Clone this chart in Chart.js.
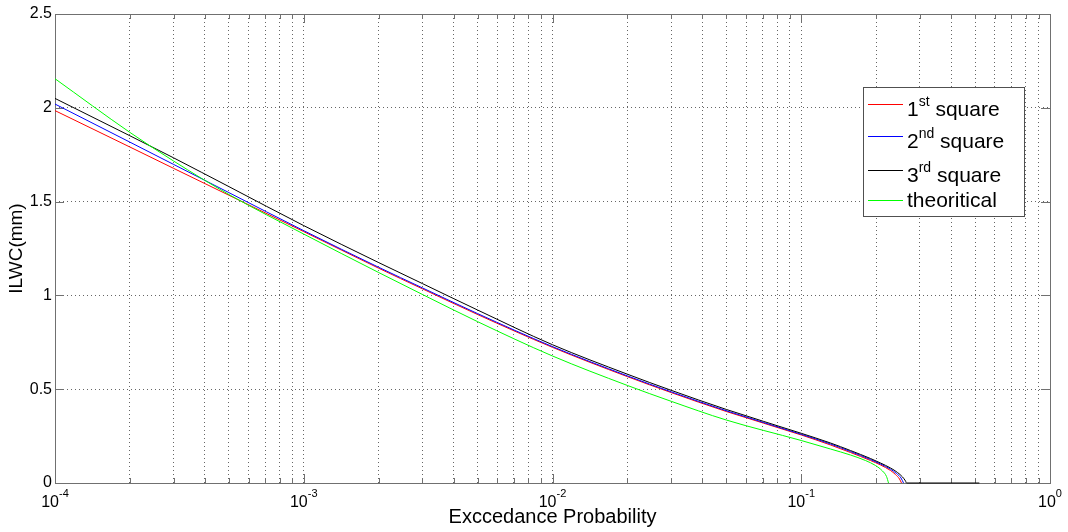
<!DOCTYPE html>
<html>
<head>
<meta charset="utf-8">
<script src="https://cdn.jsdelivr.net/npm/chart.js@4.4.1/dist/chart.umd.min.js"></script>
<style>
  html, body { margin: 0; padding: 0; background: #ffffff; }
  #wrap { width: 1068px; height: 532px; position: relative; }
</style>
</head>
<body>
<div id="wrap"><canvas id="c" width="1068" height="532"></canvas></div>
<script>
// ---------------- DATA ----------------
const seriesNames = ['1st square', '2nd square', '3rd square', 'theoritical'];
const legendMain = ['1', '2', '3', 'theoritical'];
const legendSup  = ['st', 'nd', 'rd', ''];
const legendRest = [' square', ' square', ' square', ''];

// 1st square (red)
const prob1 = [1e-4, 2e-4, 3e-4, 5e-4, 1e-3, 2e-3, 3e-3, 5e-3, 1e-2, 2e-2, 3e-2, 5e-2, 0.1, 0.1311, 0.1577, 0.1898, 0.2083, 0.2285, 0.2392, 0.2483, 0.2529];
const ilwc1 = [1.985, 1.791, 1.677, 1.534, 1.34, 1.145, 1.035, 0.898, 0.723, 0.567, 0.482, 0.381, 0.256, 0.2026, 0.1626, 0.1199, 0.096, 0.0666, 0.0453, 0.0213, 0];
// 2nd square (blue)
const prob2 = [1e-4, 2e-4, 3e-4, 5e-4, 1e-3, 2e-3, 3e-3, 5e-3, 1e-2, 2e-2, 3e-2, 5e-2, 0.1, 0.1311, 0.1577, 0.1898, 0.2083, 0.2285, 0.2415, 0.2518, 0.2577];
const ilwc2 = [2.02, 1.817, 1.698, 1.548, 1.345, 1.15, 1.04, 0.903, 0.727, 0.571, 0.486, 0.385, 0.2596, 0.2079, 0.1679, 0.1253, 0.1013, 0.0736, 0.0506, 0.0267, 0];
// 3rd square (black)
const prob3 = [1e-4, 2e-4, 3e-4, 5e-4, 1e-3, 2e-3, 3e-3, 5e-3, 1e-2, 2e-2, 3e-2, 5e-2, 0.1, 0.1311, 0.1577, 0.1898, 0.2083, 0.2285, 0.2438, 0.2554, 0.2625, 0.2649, 0.52];
const ilwc3 = [2.05, 1.851, 1.733, 1.58, 1.372, 1.175, 1.063, 0.922, 0.737, 0.58, 0.494, 0.392, 0.2649, 0.2132, 0.1732, 0.1306, 0.1066, 0.08, 0.056, 0.032, 0.0107, 0, 0];
// theoritical (green)
const prob4 = [1e-4, 2e-4, 3e-4, 5e-4, 1e-3, 2e-3, 3e-3, 5e-3, 1e-2, 2e-2, 3e-2, 5e-2, 0.1, 0.1311, 0.1577, 0.1812, 0.1988, 0.2121, 0.2202, 0.2243];
const ilwc4 = [2.155, 1.869, 1.716, 1.538, 1.327, 1.122, 1.005, 0.86, 0.677, 0.52, 0.4355, 0.3356, 0.2265, 0.1812, 0.1492, 0.1199, 0.0933, 0.064, 0.0346, 0];

const xTickExponents = [-4, -3, -2, -1, 0];
const yTickValues = [0, 0.5, 1, 1.5, 2, 2.5];
const xAxisTitle = 'Exccedance Probability';
const yAxisTitle = 'ILWC(mm)';

// ---------------- STYLE ----------------
const FONT = '"Liberation Sans", Arial, Helvetica, sans-serif';
const colors = ['#ff0000', '#0000ff', '#000000', '#00ff00'];
const GRID = 'rgba(0,0,0,0.6)';
const AXIS = '#707070';

const xGridTicks = [];
for (let e = xTickExponents[0]; e < xTickExponents[xTickExponents.length - 1]; e++) {
  for (let m = 1; m <= 9; m++) xGridTicks.push({ value: Number((m * Math.pow(10, e)).toPrecision(3)), major: m === 1 });
}
xGridTicks.push({ value: Math.pow(10, xTickExponents[xTickExponents.length - 1]), major: true });

const mk = (p, v) => v.map((y, i) => ({ x: p[i], y: y }));
const probs = [prob1, prob2, prob3, prob4];
const vals = [ilwc1, ilwc2, ilwc3, ilwc4];

const datasets = seriesNames.map((name, i) => ({
  label: name,
  data: mk(probs[i], vals[i]),
  borderColor: colors[i],
  backgroundColor: colors[i],
  borderWidth: 1,
  pointRadius: 0,
  fill: false,
  clip: false,
  cubicInterpolationMode: 'monotone',
  order: 3 - i
}));

const px = v => Math.round(v) + 0.5;

const framePlugin = {
  id: 'frame',
  beforeDatasetsDraw(chart) {
    const { ctx, chartArea: a, scales } = chart;
    ctx.save();
    ctx.strokeStyle = AXIS;
    ctx.lineWidth = 1;
    ctx.beginPath();
    xGridTicks.forEach(t => {
      const x = px(scales.x.getPixelForValue(t.value));
      const len = t.major ? 9 : 5;
      ctx.moveTo(x, a.bottom); ctx.lineTo(x, a.bottom - len);
      ctx.moveTo(x, a.top); ctx.lineTo(x, a.top + len);
    });
    yTickValues.forEach(v => {
      const y = px(scales.y.getPixelForValue(v));
      ctx.moveTo(a.left, y); ctx.lineTo(a.left + 9, y);
      ctx.moveTo(a.right, y); ctx.lineTo(a.right - 9, y);
    });
    ctx.stroke();
    ctx.strokeRect(px(a.left), px(a.top), Math.round(a.right) - Math.round(a.left), Math.round(a.bottom) - Math.round(a.top));
    ctx.restore();
  },
  afterDraw(chart) {
    const { ctx, scales } = chart;
    ctx.save();
    ctx.fillStyle = '#000';
    ctx.textBaseline = 'alphabetic';
    ctx.textAlign = 'left';
    xTickExponents.forEach(e => {
      const cx = scales.x.getPixelForValue(Math.pow(10, e));
      ctx.font = '16px ' + FONT;
      const w1 = ctx.measureText('10').width;
      ctx.font = '11px ' + FONT;
      const sup = String(e);
      const w2 = ctx.measureText(sup).width;
      const start = cx - (w1 + w2) / 2;
      ctx.font = '16px ' + FONT;
      ctx.fillText('10', start, 507);
      ctx.font = '11px ' + FONT;
      ctx.fillText(sup, start + w1, 497);
    });
    const L = 863, T = 87, R = 1024, B = 216;
    ctx.fillStyle = '#fff';
    ctx.fillRect(L, T, R - L, B - T);
    ctx.strokeStyle = '#505050';
    ctx.lineWidth = 1;
    ctx.strokeRect(L + 0.5, T + 0.5, R - L, B - T);
    const lineY = [104, 136, 170, 200];
    const baseY = [115.5, 147.5, 181.5, 207];
    legendMain.forEach((m, i) => {
      ctx.strokeStyle = colors[i];
      ctx.beginPath();
      ctx.moveTo(868, lineY[i] + 0.5);
      ctx.lineTo(903, lineY[i] + 0.5);
      ctx.stroke();
      ctx.fillStyle = '#000';
      let x = 907;
      ctx.font = '21px ' + FONT;
      ctx.fillText(m, x, baseY[i]);
      x += ctx.measureText(m).width;
      if (legendSup[i]) {
        ctx.font = '14px ' + FONT;
        ctx.fillText(legendSup[i], x, baseY[i] - 10);
        x += ctx.measureText(legendSup[i]).width;
      }
      if (legendRest[i]) {
        ctx.font = '21px ' + FONT;
        ctx.fillText(legendRest[i], x, baseY[i]);
      }
    });
    ctx.restore();
  }
};

new Chart(document.getElementById('c'), {
  type: 'line',
  data: { datasets: datasets },
  options: {
    responsive: false,
    animation: false,
    devicePixelRatio: 1,
    layout: { padding: { top: 14, right: 18, left: 0, bottom: 0 } },
    plugins: { legend: { display: false }, tooltip: { enabled: false } },
    scales: {
      x: {
        type: 'logarithmic',
        min: 1e-4,
        max: 1,
        afterBuildTicks: s => { s.ticks = xGridTicks.map(t => ({ value: t.value, major: t.major })); },
        afterFit: s => { s.height = 49; },
        ticks: { display: false, autoSkip: false },
        grid: { color: GRID, lineWidth: 1, drawTicks: false },
        border: { display: false, dash: [1, 3] },
        title: { display: true, text: xAxisTitle, color: '#000', font: { family: FONT, size: 20 }, padding: { top: 0, bottom: 3 } }
      },
      y: {
        type: 'linear',
        min: 0,
        max: 2.5,
        afterBuildTicks: s => { s.ticks = yTickValues.map(v => ({ value: v })); },
        afterFit: s => { s.width = 55; },
        ticks: { color: '#000', font: { family: FONT, size: 16 }, padding: 3, callback: v => String(v) },
        grid: { color: GRID, lineWidth: 1, drawTicks: false },
        border: { display: false, dash: [1, 3] },
        title: { display: true, text: yAxisTitle, color: '#000', font: { family: FONT, size: 19 }, padding: { top: 5, bottom: 0 } }
      }
    }
  },
  plugins: [framePlugin]
});
</script>
</body>
</html>
